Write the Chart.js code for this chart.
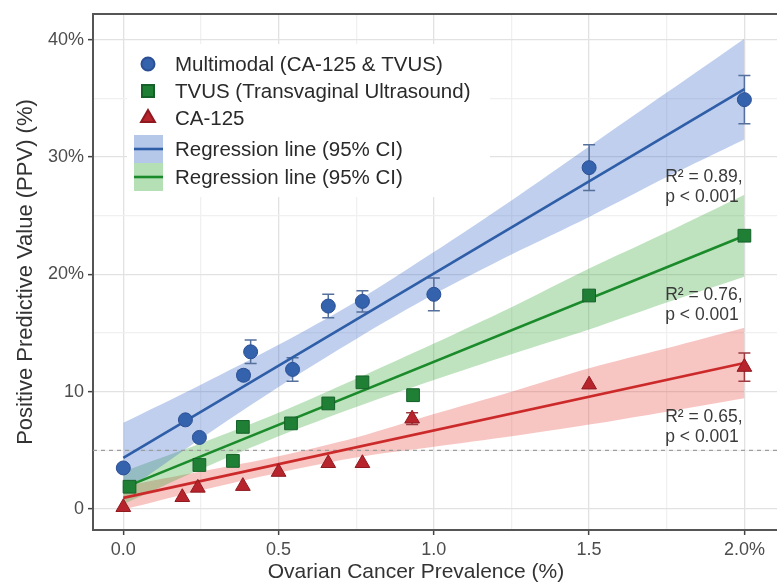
<!DOCTYPE html>
<html><head><meta charset="utf-8">
<script src="https://cdn.jsdelivr.net/npm/chart.js@4.4.1/dist/chart.umd.min.js"></script>
<style>html,body{margin:0;padding:0;background:#fff;}canvas{display:block;}</style>
</head><body>
<canvas id="c" width="777" height="583"></canvas>
<script>
// ---------- data ----------
const xMajorTicks = [0, 0.5, 1, 1.5, 2];
const xMajorLabels = ['0.0', '0.5', '1.0', '1.5', '2.0%'];
const xMinorTicks = [0.25, 0.75, 1.25, 1.75];
const yMajorTicks = [0, 10, 20, 30, 40];
const yMajorLabels = ['0', '10', '20%', '30%', '40%'];
const yMinorTicks = [5, 15, 25, 35];

const xTitle = 'Ovarian Cancer Prevalence (%)';
const yTitle = 'Positive Predictive Value (PPV) (%)';
const legendLabels = ['Multimodal (CA-125 & TVUS)', 'TVUS (Transvaginal Ultrasound)', 'CA-125', 'Regression line (95% CI)', 'Regression line (95% CI)'];

const blueX = [0, 0.2, 0.245, 0.387, 0.41, 0.545, 0.66, 0.77, 1.0, 1.5, 2.0];
const blueY = [3.5, 7.6, 6.1, 11.4, 13.4, 11.9, 17.3, 17.7, 18.3, 29.1, 34.9];
const blueErr = [0, 0, 0, 0.4, 1.0, 1.0, 1.0, 0.9, 1.4, 1.95, 2.05];

const greenX = [0.02, 0.245, 0.353, 0.385, 0.54, 0.66, 0.77, 0.933, 1.5, 2.0];
const greenY = [1.9, 3.75, 4.1, 7.0, 7.3, 9.0, 10.8, 9.7, 18.2, 23.3];
const greenErr = [0, 0, 0, 0, 0, 0, 0, 0.5, 0, 0];

const redX = [0, 0.19, 0.24, 0.385, 0.5, 0.66, 0.77, 0.93, 1.5, 2.0];
const redY = [0.15, 1.0, 1.8, 1.95, 3.15, 3.9, 3.9, 7.7, 10.6, 12.1];
const redErr = [0, 0, 0, 0, 0, 0, 0, 0.5, 0, 1.2];

const fitX = [0, 2];
const blueFit = [4.35, 35.8];
const greenFit = [1.8, 23.3];
const redFit = [0.95, 12.45];

const ciX = [0, 0.25, 0.5, 0.75, 1.0, 1.25, 1.5, 1.75, 2.0];
const blueUpper = [7.35, 10.6, 14.0, 17.7, 21.9, 26.3, 30.9, 35.5, 40.1];
const blueLower = [1.35, 6.0, 10.4, 14.5, 18.3, 21.7, 24.9, 28.3, 31.5];
const greenUpper = [3.2, 5.6, 8.2, 11.1, 14.1, 17.2, 20.5, 23.6, 26.8];
const greenLower = [0.4, 3.4, 6.2, 8.7, 11.0, 13.2, 15.3, 17.6, 19.8];
const redUpper = [1.95, 3.2, 4.5, 6.1, 8.1, 10.0, 12.0, 13.7, 15.45];
const redLower = [-0.05, 1.6, 3.1, 4.4, 5.3, 6.2, 7.2, 8.3, 9.45];

const refLineY = 5;
const annoTexts = [['R\u00B2 = 0.89,', 'p < 0.001'], ['R\u00B2 = 0.76,', 'p < 0.001'], ['R\u00B2 = 0.65,', 'p < 0.001']];
const annoY = [28.3, 18.2, 7.85];
const annoX = 1.745;

// ---------- helpers ----------
const pts = (xs, ys) => xs.map((x, i) => ({x, y: ys[i]}));
const FONT = '"Liberation Sans", Arial, sans-serif';
const BLUE = '#3462ad', GREEN = '#1f7f34', RED = '#b8242c';

const xTicksAll = [...xMajorTicks, ...xMinorTicks].sort((a, b) => a - b);
const yTicksAll = [...yMajorTicks, ...yMinorTicks].sort((a, b) => a - b);

const bandDs = (xs, ys, fill, color) => ({
  data: pts(xs, ys), showLine: true, borderWidth: 0, borderColor: 'rgba(0,0,0,0)',
  pointRadius: 0, fill: fill, backgroundColor: color, tension: 0.3
});
const fitDs = (ys, color) => ({
  data: pts(fitX, ys), showLine: true, borderWidth: 2.6, borderColor: color, pointRadius: 0, fill: false
});
const pointDs = (xs, ys, style, r, color, border) => ({
  data: pts(xs, ys), showLine: false, pointStyle: style, pointRadius: r,
  pointBackgroundColor: color, pointBorderColor: border, pointBorderWidth: 1, fill: false
});

const plugins = [{
  id: 'bg',
  beforeDraw(chart) {
    const c = chart.ctx; c.save(); c.fillStyle = '#fff'; c.fillRect(0, 0, chart.width, chart.height); c.restore();
  }
}, {
  id: 'refAndErr',
  beforeDatasetsDraw(chart) {
    const c = chart.ctx, xs = chart.scales.x, ys = chart.scales.y, a = chart.chartArea;
    c.save();
    c.beginPath(); c.rect(a.left, a.top, a.right - a.left, a.bottom - a.top); c.clip();
    const py = ys.getPixelForValue(refLineY);
    c.strokeStyle = '#9a9a9a'; c.lineWidth = 1.2; c.setLineDash([4, 4]);
    c.beginPath(); c.moveTo(a.left, py); c.lineTo(a.right, py); c.stroke();
    c.setLineDash([]);
    c.lineWidth = 1.5;
    [[blueX, blueY, blueErr, '#55709c'], [greenX, greenY, greenErr, '#3c7a48'], [redX, redY, redErr, '#9c3a40']].forEach(([X, Y, E, col]) => {
      c.strokeStyle = col;
      X.forEach((xv, i) => {
        if (!E[i]) return;
        const px = xs.getPixelForValue(xv), p1 = ys.getPixelForValue(Y[i] + E[i]), p2 = ys.getPixelForValue(Y[i] - E[i]);
        c.beginPath();
        c.moveTo(px, p1); c.lineTo(px, p2);
        c.moveTo(px - 6, p1); c.lineTo(px + 6, p1);
        c.moveTo(px - 6, p2); c.lineTo(px + 6, p2);
        c.stroke();
      });
    });
    c.restore();
  }
}, {
  id: 'decor',
  afterDraw(chart) {
    const c = chart.ctx, xs = chart.scales.x, ys = chart.scales.y, a = chart.chartArea;
    c.save();
    c.strokeStyle = '#555'; c.lineWidth = 2;
    c.beginPath(); c.moveTo(a.left - 1, a.top); c.lineTo(a.right, a.top); c.stroke();
    c.fillStyle = '#3a3a3a'; c.font = '17.5px ' + FONT; c.textBaseline = 'middle'; c.textAlign = 'left';
    annoTexts.forEach((lines, i) => {
      const px = xs.getPixelForValue(annoX), py = ys.getPixelForValue(annoY[i]);
      lines.forEach((t, j) => c.fillText(t, px, py + j * 20));
    });
    c.fillStyle = '#fff'; c.fillRect(127, 44, 363, 153);
    const rowsY = [64, 91, 118, 149, 177];
    const mx = 148;
    const H = Chart.helpers;
    c.fillStyle = BLUE; c.strokeStyle = '#2b4f94';
    H.drawPoint(c, {pointStyle: 'circle', radius: 6.5, borderWidth: 1, rotation: 0}, mx, rowsY[0]);
    c.fillStyle = GREEN; c.strokeStyle = '#16612a';
    H.drawPoint(c, {pointStyle: 'rect', radius: 8.5, borderWidth: 1, rotation: 0}, mx, rowsY[1]);
    c.fillStyle = RED; c.strokeStyle = '#8e1a20';
    H.drawPoint(c, {pointStyle: 'triangle', radius: 8, borderWidth: 1, rotation: 0}, mx, rowsY[2]);
    [[rowsY[3], 'rgba(60,110,200,0.38)', '#2f5ea8'], [rowsY[4], 'rgba(60,170,60,0.38)', '#1a8a2a']].forEach(([ry, fillc, linec]) => {
      c.fillStyle = fillc; c.fillRect(134, ry - 14, 29, 28);
      c.strokeStyle = linec; c.lineWidth = 2.6;
      c.beginPath(); c.moveTo(134, ry); c.lineTo(163, ry); c.stroke();
    });
    c.fillStyle = '#2a2a2a'; c.font = '20.5px ' + FONT; c.textAlign = 'left'; c.textBaseline = 'middle';
    legendLabels.forEach((t, i) => c.fillText(t, 175, rowsY[i] + 1));
    c.fillStyle = '#333'; c.font = '21px ' + FONT; c.textAlign = 'center'; c.textBaseline = 'middle';
    c.fillText(xTitle, 416, 572);
    c.save(); c.translate(26, 272); c.rotate(-Math.PI / 2);
    c.font = '22px ' + FONT; c.fillText(yTitle, 0, 0); c.restore();
    c.restore();
  }
}];

const majorGrid = (list) => (ctx) => list.includes(ctx.tick && ctx.tick.value) ? '#e2e2e2' : '#f0f0f0';
const majorTick = (list) => (ctx) => list.includes(ctx.tick && ctx.tick.value) ? '#444' : 'rgba(0,0,0,0)';

new Chart(document.getElementById('c'), {
  type: 'line',
  data: {
    datasets: [
      pointDs(blueX, blueY, 'circle', 7, BLUE, '#2b4f94'),
      pointDs(greenX, greenY, 'rect', 9, GREEN, '#16612a'),
      pointDs(redX, redY, 'triangle', 8.5, RED, '#8e1a20'),
      fitDs(blueFit, '#2f5ea8'),
      fitDs(greenFit, '#1a8a2a'),
      fitDs(redFit, '#cc2a2a'),
      bandDs(ciX, blueUpper, false, 'rgba(0,0,0,0)'),
      bandDs(ciX, blueLower, '-1', 'rgba(60,110,200,0.33)'),
      bandDs(ciX, greenUpper, false, 'rgba(0,0,0,0)'),
      bandDs(ciX, greenLower, '-1', 'rgba(60,170,60,0.33)'),
      bandDs(ciX, redUpper, false, 'rgba(0,0,0,0)'),
      bandDs(ciX, redLower, '-1', 'rgba(230,80,70,0.33)')
    ]
  },
  options: {
    responsive: false,
    animation: false,
    layout: {autoPadding: false, padding: {top: 14, right: 0, left: 0, bottom: 0}},
    plugins: {legend: {display: false}, tooltip: {enabled: false}, filler: {drawTime: 'beforeDatasetsDraw'}},
    scales: {
      x: {
        type: 'linear', min: -0.0976, max: 2.105,
        afterBuildTicks: (s) => { s.ticks = xTicksAll.map(v => ({value: v})); },
        afterFit: (s) => { s.height = 53; s.paddingLeft = 0; s.paddingRight = 0; },
        ticks: {
          autoSkip: false, maxRotation: 0, padding: 4, color: '#4d4d4d', font: {size: 18, family: FONT},
          callback: (v) => { const i = xMajorTicks.indexOf(v); return i >= 0 ? xMajorLabels[i] : ''; }
        },
        grid: {color: majorGrid(xMajorTicks), lineWidth: 1.3, tickColor: majorTick(xMajorTicks), tickLength: 5, tickWidth: 1.5},
        border: {color: '#555', width: 2}
      },
      y: {
        type: 'linear', min: -1.79, max: 42.2,
        afterBuildTicks: (s) => { s.ticks = yTicksAll.map(v => ({value: v})); },
        afterFit: (s) => { s.width = 93; s.paddingTop = 0; s.paddingBottom = 0; },
        ticks: {
          autoSkip: false, padding: 4, color: '#4d4d4d', font: {size: 18, family: FONT},
          callback: (v) => { const i = yMajorTicks.indexOf(v); return i >= 0 ? yMajorLabels[i] : ''; }
        },
        grid: {color: majorGrid(yMajorTicks), lineWidth: 1.3, tickColor: majorTick(yMajorTicks), tickLength: 5, tickWidth: 1.5},
        border: {color: '#555', width: 2}
      }
    }
  },
  plugins: plugins
});
</script>
</body></html>
